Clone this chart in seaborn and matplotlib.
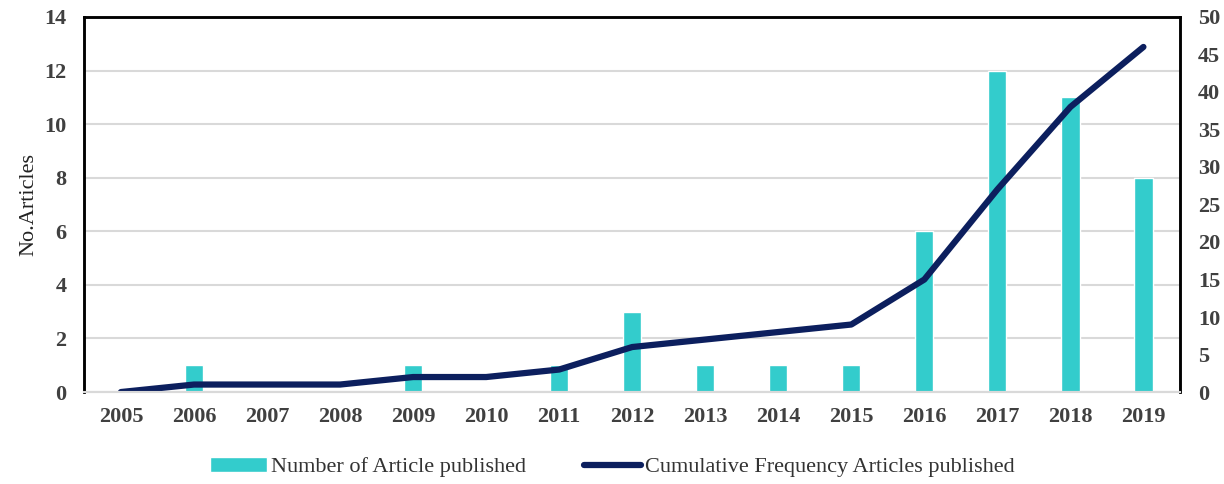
import matplotlib
matplotlib.use("Agg")
import matplotlib.pyplot as plt
import seaborn as sns
import numpy as np

years = ["2005", "2006", "2007", "2008", "2009", "2010", "2011", "2012",
         "2013", "2014", "2015", "2016", "2017", "2018", "2019"]
articles = [0, 1, 0, 0, 1, 0, 1, 3, 1, 1, 1, 6, 12, 11, 8]
cumulative = [0, 1, 1, 1, 2, 2, 3, 6, 7, 8, 9, 15, 27, 38, 46]

bar_color = "#33CCCC"
line_color = "#0C1F5E"
tick_color = "#404040"

sns.set_theme(style="white")
plt.rcParams['font.family'] = ['Liberation Serif', 'DejaVu Serif']

fig = plt.figure(figsize=(12.24, 4.84), dpi=100)
ax = fig.add_axes([0.069, 0.19, 0.895, 0.775])

sns.barplot(x=years, y=articles, ax=ax, color=bar_color, width=0.25,
            saturation=1, label="Number of Article published", zorder=2)
if ax.get_legend() is not None:
    ax.get_legend().remove()
ax.set_ylim(0, 14)
ax.set_yticks(range(0, 15, 2))
ax.set_xlim(-0.5, 14.5)
ax.grid(axis="y", color="#D9D9D9", linewidth=1.5, zorder=0)
ax.set_axisbelow(True)
ax.set_ylabel("No.Articles", fontsize=16, color="#222222", labelpad=4)
ax.set_xlabel("")

ax2 = ax.twinx()
sns.lineplot(x=np.arange(len(years)), y=cumulative, ax=ax2, color=line_color,
             linewidth=4.5, label="Cumulative Frequency Articles published",
             legend=False, solid_capstyle="round")
ax2.set_ylim(0, 50)
ax2.set_yticks(range(0, 51, 5))
ax2.set_xlim(-0.5, 14.5)

for a in (ax, ax2):
    for side in ("left", "top", "right"):
        a.spines[side].set_color("black")
        a.spines[side].set_linewidth(1.8)
    a.spines["bottom"].set_color("#D9D9D9")
    a.spines["bottom"].set_linewidth(1.5)
    a.tick_params(length=0, labelsize=16, colors=tick_color)
    for lbl in a.get_xticklabels() + a.get_yticklabels():
        lbl.set_fontweight("bold")
ax.tick_params(axis="x", pad=11)
ax.tick_params(axis="y", pad=13)
ax2.tick_params(axis="y", pad=13)

h1, l1 = ax.get_legend_handles_labels()
h2, l2 = ax2.get_legend_handles_labels()
fig.legend(h1 + h2, l1 + l2, loc="center", bbox_to_anchor=(0.5, 0.035),
           ncol=2, frameon=False, fontsize=16, handlelength=2.6,
           handletextpad=0.15, columnspacing=2.6, labelcolor="#333333")

fig.savefig("out.png", dpi=100)
